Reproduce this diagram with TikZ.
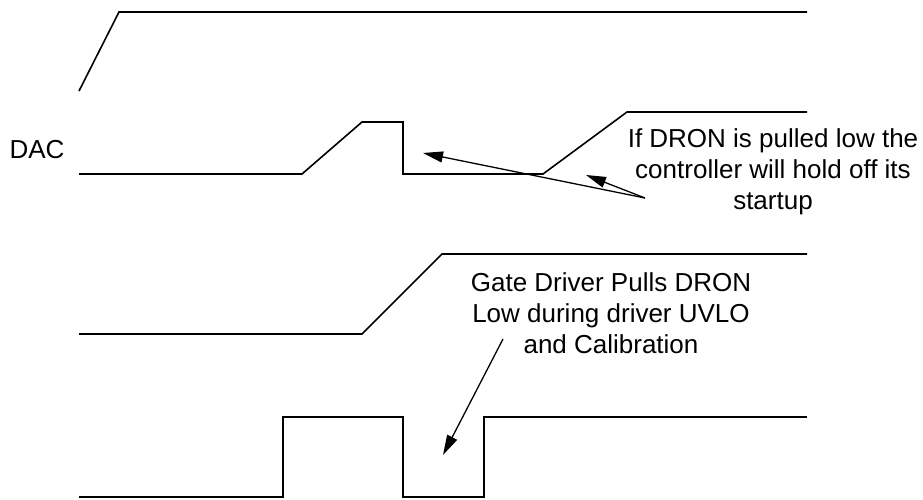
\documentclass[tikz,border=0pt]{standalone}
\usepackage{fontspec}
\setmainfont{Liberation Sans}
\usetikzlibrary{arrows.meta}

\begin{document}
\begin{tikzpicture}[x=1pt,y=-1pt]
  \tikzstyle{wave} = [line width=1.6pt, line join=miter]
  \tikzstyle{note} = [font=\fontsize{26}{31}\selectfont, align=center, inner sep=0pt]
  \tikzstyle{pointer} = [line width=1.3pt, -{Triangle[length=20pt,width=11pt]}]
  \useasboundingbox (0,0) rectangle (923,500);
  % waveforms
  \draw[wave] (79,91) -- (119,12) -- (807,12);
  \draw[wave] (79,174) -- (302,174) -- (362,122) -- (403,122) -- (403,174) -- (543,174) -- (627,112) -- (807,112);
  \draw[wave] (79,334) -- (362,334) -- (442,254) -- (807,254);
  \draw[wave] (79,497) -- (283,497) -- (283,417) -- (403,417) -- (403,497) -- (484,497) -- (484,417) -- (807,417);
  % labels
  \draw (37,158) node[note, anchor=base] (dac) {DAC};
  \draw (773,172) node[note] (hold) {If DRON is pulled low the\\controller will hold off its\\startup};
  \draw (611,313) node[note] (pull) {Gate Driver Pulls DRON\\Low during driver UVLO\\and Calibration};
  % pointers
  \coordinate (holdtail) at (645,198);
  \coordinate (holdfar) at (423,153);
  \coordinate (holdnear) at (586,175);
  \coordinate (pulltail) at (503,339);
  \coordinate (pulltip) at (443,455);
  \draw [pointer] (holdtail) -- (holdfar);
  \draw [pointer] (holdtail) -- (holdnear);
  \draw [pointer] (pulltail) -- (pulltip);
\end{tikzpicture}
\end{document}
